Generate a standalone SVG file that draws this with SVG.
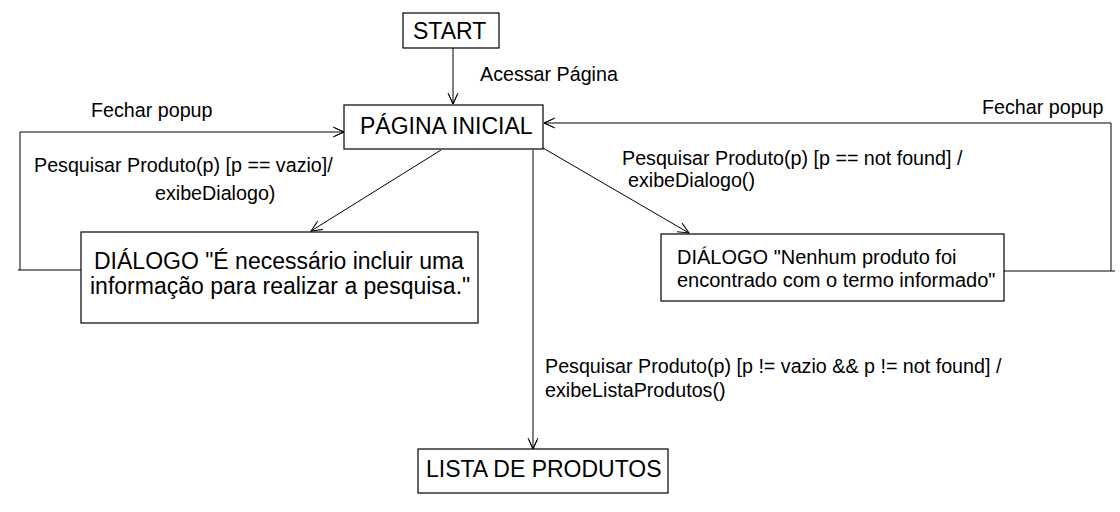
<svg xmlns="http://www.w3.org/2000/svg" width="1120" height="512" viewBox="0 0 1120 512">
<defs>
<marker id="arr" markerUnits="userSpaceOnUse" markerWidth="20" markerHeight="20" refX="12" refY="6" orient="auto">
<path d="M1,1 L12,6 L1,11 M3,2 L12,6 L3,10" fill="none" stroke="#000" stroke-width="1"/>
</marker>
<style>
text{font-family:"Liberation Sans",Arial,sans-serif;fill:#000}
.node{font-size:23px}
.lbl{font-size:19.7px}
.box{fill:#fff;stroke:#000;stroke-width:1.2}
.edge{fill:none;stroke:#000;stroke-width:1}
</style>
</defs>
<rect width="1120" height="512" fill="#fff"/>
<g id="connectors">
<path class="edge" d="M453,48 L453,104" marker-end="url(#arr)"/>
<path class="edge" d="M81,270 L18,270 M20,270 L20,132 L344,132" marker-end="url(#arr)"/>
<path class="edge" d="M1004,271 L1115,271 M1111,271 L1111,123 L544,123" marker-end="url(#arr)"/>
<path class="edge" d="M441,150 L311,231" marker-end="url(#arr)"/>
<path class="edge" d="M543,148 L689,233" marker-end="url(#arr)"/>
<path class="edge" d="M533,150 L533,449" marker-end="url(#arr)"/>
<text class="lbl" x="480" y="81">Acessar Página</text>
<text class="lbl" x="91" y="117">Fechar popup</text>
<text class="lbl" x="34" y="172">Pesquisar Produto(p) [p == vazio]/</text>
<text class="lbl" x="155" y="200">exibeDialogo)</text>
<text class="lbl" x="982" y="114">Fechar popup</text>
<text class="lbl" x="622" y="165">Pesquisar Produto(p) [p == not found] /</text>
<text class="lbl" x="628" y="187">exibeDialogo()</text>
<text class="lbl" x="545" y="373">Pesquisar Produto(p) [p != vazio &amp;&amp; p != not found] /</text>
<text class="lbl" x="545" y="397">exibeListaProdutos()</text>
</g>
<g id="start">
<rect class="box" x="403" y="13" width="96" height="35"/>
<text class="node" x="413" y="38.5">START</text>
</g>
<g id="pagina-inicial">
<rect class="box" x="344" y="105" width="199" height="44"/>
<text class="node" x="360" y="134">PÁGINA INICIAL</text>
</g>
<g id="dialogo-vazio">
<rect class="box" x="81" y="232" width="397" height="91"/>
<text class="node" x="94" y="269">DIÁLOGO "É necessário incluir uma</text>
<text class="node" x="90" y="294">informação para realizar a pesquisa."</text>
</g>
<g id="dialogo-not-found">
<rect class="box" x="661" y="234" width="343" height="67"/>
<text class="node" style="font-size:20px" x="677" y="264">DIÁLOGO "Nenhum produto foi</text>
<text class="node" style="font-size:20px" x="677" y="287">encontrado com o termo informado"</text>
</g>
<g id="lista-produtos">
<rect class="box" x="418" y="449" width="250" height="44"/>
<text class="node" x="426" y="477">LISTA DE PRODUTOS</text>
</g>
</svg>
